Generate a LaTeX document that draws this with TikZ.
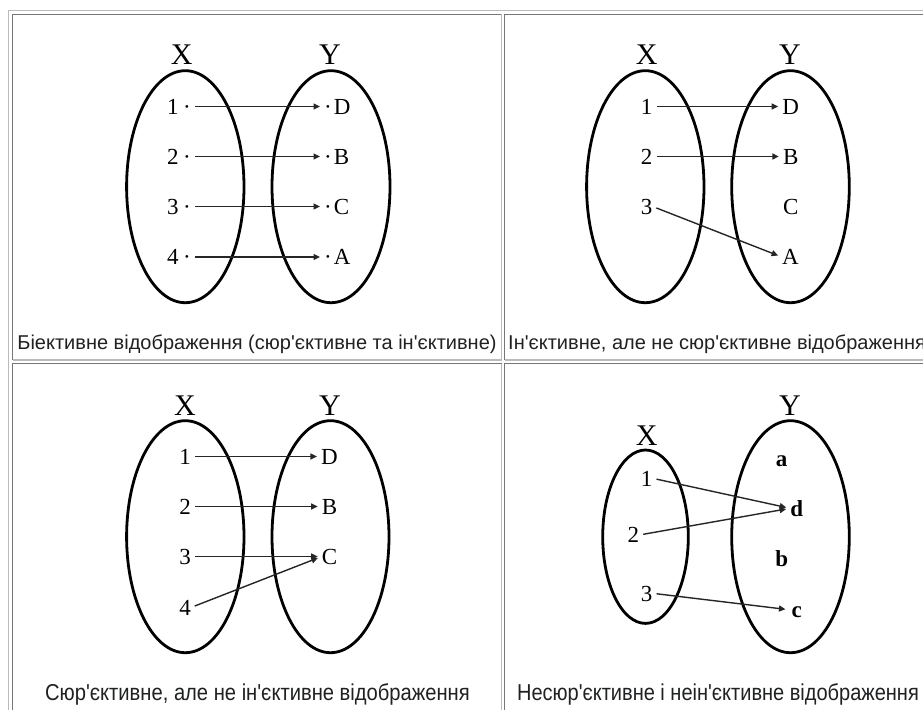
\documentclass[tikz,border=0pt]{standalone}
\usepackage{fontspec}
\setmainfont{Liberation Serif}
\newfontfamily\capfont[Ligatures=TeXOff]{Liberation Sans}
\usetikzlibrary{arrows.meta}
\definecolor{bdark}{HTML}{777777}
\definecolor{blight}{HTML}{BBBBBB}
\definecolor{captxt}{HTML}{202122}
\tikzset{
  setellipse/.style={draw=black, line width=2.8pt},
  elt/.style={inner sep=0pt, text height=15.5pt, text depth=0pt, font=\fontsize{23}{25}\selectfont},
  eltb/.style={elt, font=\fontsize{23}{25}\selectfont\bfseries},
  setname/.style={inner sep=0pt, text height=20pt, text depth=0pt, font=\fontsize{30}{32}\selectfont},
  maparrow/.style={-{Triangle[length=6.5pt,width=6pt]}, line width=1.4pt, draw=black!85, shorten <=4pt, shorten >=4pt},
  caption/.style={inner sep=0pt, text height=14.5pt, text depth=4pt, text=captxt, font=\capfont\fontsize{20}{22}\selectfont},
  captionlow/.style={inner sep=0pt, text height=16.5pt, text depth=4.5pt, text=captxt, font=\capfont\fontsize{23}{25}\selectfont},
  cellborder/.style={line width=1.2pt},
}
\begin{document}
\begin{tikzpicture}[x=1pt,y=-1pt]
\clip (0,0) rectangle (923,709);
\fill[white] (0,0) rectangle (923,709);
% table borders
\draw[blight, cellborder] (8.5,712) -- (8.5,10.5) -- (926,10.5);
\foreach \xa/\ya/\xb/\yb in {12.5/14.5/501.5/360, 504.5/14.5/940/360, 12.5/363.5/501.5/720, 504.5/363.5/940/720}{
  \draw[bdark, cellborder] (\xa,\yb) -- (\xa,\ya) -- (\xb,\ya);
  \draw[blight, cellborder] (\xb,\ya) -- (\xb,\yb) -- (\xa,\yb);
}
% ---------- panel 1 ----------
\node[setname] (p1X) at (181.7,55) {X};
\node[setname] (p1Y) at (330,55) {Y};
\draw[setellipse] (185.3,186.7) ellipse [x radius=58.7pt, y radius=116pt];
\draw[setellipse] (331,186.7) ellipse [x radius=59pt, y radius=116pt];
\node[elt, anchor=east] (p1a1) at (191,106.5) {1\hspace{4.5pt}·};
\node[elt, anchor=east] (p1a2) at (191,156.5) {2\hspace{4.5pt}·};
\node[elt, anchor=east] (p1a3) at (191,206.5) {3\hspace{4.5pt}·};
\node[elt, anchor=east] (p1a4) at (191,257) {4\hspace{4.5pt}·};
\node[elt, anchor=west] (p1b1) at (324,106.5) {·\hspace{2.1pt}D};
\node[elt, anchor=west] (p1b2) at (324,156.5) {·\hspace{2.1pt}B};
\node[elt, anchor=west] (p1b3) at (324,206.5) {·\hspace{2.1pt}C};
\node[elt, anchor=west] (p1b4) at (324,257) {·\hspace{2.1pt}A};
\draw[maparrow] (p1a1.east) -- (p1b1.west);
\draw[maparrow] (p1a2.east) -- (p1b2.west);
\draw[maparrow] (p1a3.east) -- (p1b3.west);
\draw[maparrow] (p1a4.east) -- (p1b4.west);
\node[caption] (cap1) at (257,344) {Біективне відображення (сюр'єктивне та ін'єктивне)};
% ---------- panel 2 ----------
\node[setname] (p2X) at (646.7,55) {X};
\node[setname] (p2Y) at (790,55) {Y};
\draw[setellipse] (645.3,186.7) ellipse [x radius=58.7pt, y radius=116pt];
\draw[setellipse] (790.5,186.7) ellipse [x radius=58.8pt, y radius=116pt];
\node[elt] (p2a1) at (646.7,106.5) {1};
\node[elt] (p2a2) at (646.7,156.5) {2};
\node[elt] (p2a3) at (646.7,206.5) {3};
\node[elt] (p2bD) at (790.7,106.5) {D};
\node[elt] (p2bB) at (790.7,156.5) {B};
\node[elt] (p2bC) at (790.7,206.5) {C};
\node[elt] (p2bA) at (790.3,257) {A};
\draw[maparrow] (p2a1.east) -- (p2bD.west);
\draw[maparrow] (p2a2.east) -- (p2bB.west);
\draw[maparrow] (p2a3.east) -- (p2bA.west);
\node[caption, anchor=west] (cap2) at (508,344) {Ін'єктивне, але не сюр'єктивне відображення};
% ---------- panel 3 ----------
\node[setname] (p3X) at (185,405) {X};
\node[setname] (p3Y) at (330,405) {Y};
\draw[setellipse] (185.3,536.7) ellipse [x radius=58.7pt, y radius=116pt];
\draw[setellipse] (330.5,536.7) ellipse [x radius=58.5pt, y radius=116pt];
\node[elt] (p3a1) at (185,456.5) {1};
\node[elt] (p3a2) at (185,506.5) {2};
\node[elt] (p3a3) at (185,556.5) {3};
\node[elt] (p3a4) at (185,607.5) {4};
\node[elt] (p3bD) at (329.5,456.5) {D};
\node[elt] (p3bB) at (329.5,506.5) {B};
\node[elt] (p3bC) at (329.5,556.5) {C};
\draw[maparrow] (p3a1.east) -- (p3bD.west);
\draw[maparrow] (p3a2.east) -- (p3bB.west);
\draw[maparrow] (p3a3.east) -- (p3bC.west);
\draw[maparrow] (p3a4.east) -- (p3bC.west);
\node[captionlow] (cap3) at (257.5,694.7) {\scalebox{0.877}[1]{Сюр'єктивне, але не ін'єктивне відображення}};
% ---------- panel 4 ----------
\node[setname] (p4X) at (646.7,435) {X};
\node[setname] (p4Y) at (790,405) {Y};
\draw[setellipse] (645.5,536.7) ellipse [x radius=42.8pt, y radius=86.7pt];
\draw[setellipse] (790.5,536.7) ellipse [x radius=58.8pt, y radius=116pt];
\node[elt] (p4a1) at (646.7,478.3) {1};
\node[elt] (p4a2) at (633.3,535) {2};
\node[elt] (p4a3) at (646.7,593.3) {3};
\node[eltb] (p4ba) at (781.7,458.3) {a};
\node[eltb] (p4bd) at (796.7,508.3) {d};
\node[eltb] (p4bb) at (781.7,558.3) {b};
\node[eltb] (p4bc) at (796.7,610) {c};
\draw[maparrow] (p4a1.east) -- (p4bd.west);
\draw[maparrow] (p4a2.east) -- (p4bd.west);
\draw[maparrow, shorten >=6pt] (p4a3.east) -- (p4bc.west);
\node[captionlow] (cap4) at (718,694.7) {\scalebox{0.87}[1]{Несюр'єктивне і неін'єктивне відображення}};
\end{tikzpicture}
\end{document}
